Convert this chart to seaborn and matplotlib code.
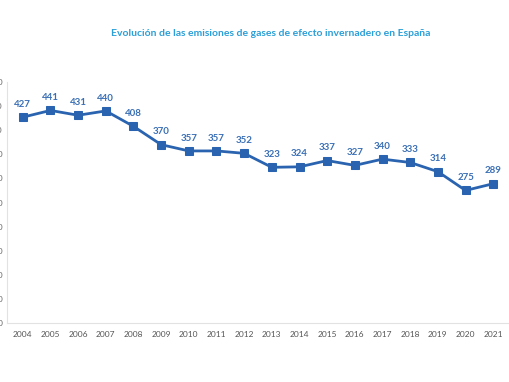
import numpy as np
import pandas as pd
import matplotlib
matplotlib.use("Agg")
import matplotlib.pyplot as plt
import seaborn as sns

years = ["2004", "2005", "2006", "2007", "2008", "2009", "2010", "2011", "2012",
         "2013", "2014", "2015", "2016", "2017", "2018", "2019", "2020", "2021"]
emissions = [427, 441, 431, 440, 408, 370, 357, 357, 352,
             323, 324, 337, 327, 340, 333, 314, 275, 289]
y_ticks = [0, 50, 100, 150, 200, 250, 300, 350, 400, 450, 500]

df = pd.DataFrame({"year": years, "value": emissions})

sns.set_theme(style="white")
plt.rcParams['font.family'] = ['Lato', 'DejaVu Sans']

blue = "#2a64b0"
fig = plt.figure(figsize=(5.1, 3.82), dpi=100)
ax = fig.add_axes([7 / 510, 1 - 323 / 382, 502 / 510, 241 / 382])

sns.lineplot(data=df, x="year", y="value", ax=ax, color=blue, linewidth=2,
             marker="s", markersize=6, markeredgecolor=blue, sort=False)

for i, v in enumerate(emissions):
    ax.annotate(str(v), (i, v), xytext=(0, 6), textcoords="offset points",
                ha="center", va="bottom", fontsize=7, color="#3a6fb5", fontweight="bold")

ax.set_xlim(-0.57, len(years) - 0.43)
ax.set_ylim(0, 500)
ax.set_yticks(y_ticks)
ax.set_yticklabels([str(t) for t in y_ticks], fontsize=6, color="#666666")
ax.tick_params(axis="y", pad=3, length=0)
ax.tick_params(axis="x", labelsize=6, labelcolor="#555555", pad=6, length=0)
ax.set_xlabel("")
ax.set_ylabel("")

for side in ["top", "right"]:
    ax.spines[side].set_visible(False)
for side in ["left", "bottom"]:
    ax.spines[side].set_color("#e2e2e2")
    ax.spines[side].set_linewidth(0.8)

fig.text(0.53, 1 - 33 / 382, "Evolución de las emisiones de gases de efecto invernadero en España",
         ha="center", va="center", fontsize=7.5, color="#2b9fd8", fontweight="bold")

fig.savefig("out.png", dpi=100)
